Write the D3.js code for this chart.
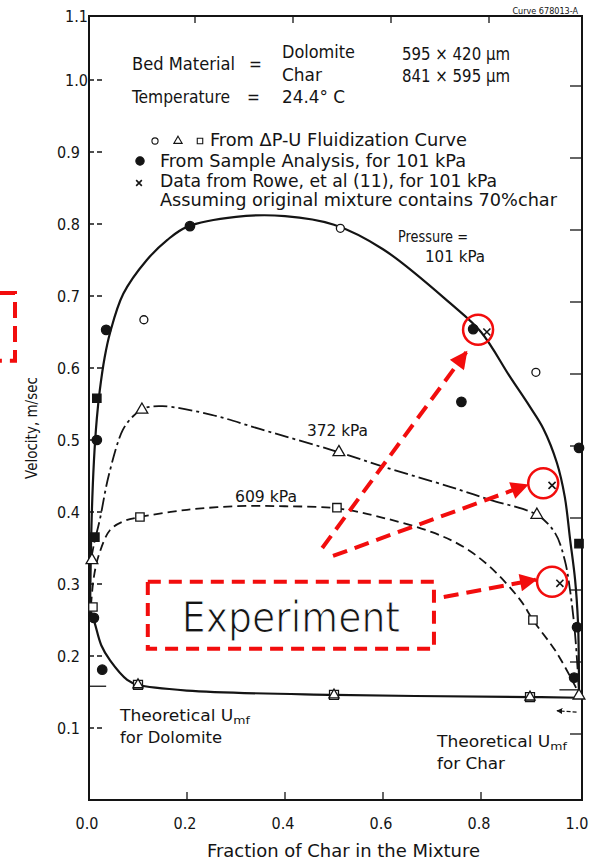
<!DOCTYPE html>
<html>
<head>
<meta charset="utf-8">
<script src="https://cdn.jsdelivr.net/npm/d3@7"></script>
<style>
  html, body { margin: 0; padding: 0; background: #fff; }
  svg { display: block; }
  text { font-family: 'DejaVu Sans Condensed', 'DejaVu Sans', sans-serif; fill: #141414; }
</style>
</head>
<body>
<script>
// ---- data (x = fraction of char, y = velocity m/sec)
const xTicks = [0, 0.2, 0.4, 0.6, 0.8, 1.0];
const yTicks = [0.1, 0.2, 0.3, 0.4, 0.5, 0.6, 0.7, 0.8, 0.9, 1.0, 1.1];

const curve101 = [[0.002, 0.25], [0.005, 0.38], [0.01, 0.47], [0.016, 0.53], [0.022, 0.569],
  [0.032, 0.615], [0.043, 0.649], [0.07, 0.703], [0.118, 0.75], [0.16, 0.778], [0.2, 0.796],
  [0.3, 0.81], [0.4, 0.811], [0.5, 0.799], [0.6, 0.765], [0.737, 0.69], [0.8, 0.65],
  [0.859, 0.588], [0.9, 0.546], [0.927, 0.516], [0.955, 0.468], [0.971, 0.421], [0.982, 0.361],
  [0.992, 0.306], [0.998, 0.246], [0.9995, 0.2], [1.0, 0.15]];
const curve372 = [[0.004, 0.333], [0.01, 0.355], [0.022, 0.389], [0.04, 0.45], [0.069, 0.514],
  [0.09, 0.533], [0.112, 0.544], [0.15, 0.547], [0.25, 0.535], [0.35, 0.515], [0.51, 0.483],
  [0.6, 0.463], [0.737, 0.435], [0.818, 0.417], [0.914, 0.396], [0.951, 0.371], [0.971, 0.333],
  [0.982, 0.29], [0.992, 0.23], [1.0, 0.15]];
const curve609 = [[0.004, 0.27], [0.01, 0.31], [0.02, 0.34], [0.043, 0.375], [0.07, 0.387],
  [0.104, 0.393], [0.2, 0.403], [0.3, 0.408], [0.4, 0.408], [0.506, 0.405], [0.6, 0.392],
  [0.7, 0.372], [0.763, 0.352], [0.818, 0.324], [0.88, 0.278], [0.906, 0.25], [0.955, 0.204], [1.0, 0.148]];
const curveUmf = [[0.004, 0.262], [0.012, 0.245], [0.025, 0.215], [0.043, 0.194], [0.078, 0.167],
  [0.1, 0.16], [0.2, 0.152], [0.5, 0.146], [0.9, 0.143], [1.0, 0.142]];

const openCircles = [[0.112, 0.667], [0.513, 0.794], [0.912, 0.594]];
const openTriangles = [[0.108, 0.542], [0.51, 0.483], [0.914, 0.396], [0.006, 0.333], [1.0, 0.145]];
const openSquares = [[0.104, 0.393], [0.506, 0.406], [0.906, 0.25], [0.008, 0.268]];
const umfPoints = [[0.1, 0.16], [0.5, 0.146], [0.9, 0.143]];
const filledDots = [[0.035, 0.653], [0.206, 0.797], [0.784, 0.654], [0.76, 0.553], [0.016, 0.5],
  [1.0, 0.489], [0.027, 0.181], [0.01, 0.253], [0.996, 0.24], [0.99, 0.17]];
const filledSquares = [[0.016, 0.558], [0.012, 0.365], [1.0, 0.356]];
const crosses = [[0.812, 0.65], [0.945, 0.437], [0.961, 0.301]];

// red overlay (also in data units)
const redCircles = [[0.794, 0.653], [0.927, 0.44], [0.945, 0.303]];
const redArrows = [
  [[0.476, 0.35], [0.77, 0.622]],
  [[0.498, 0.339], [0.894, 0.4375]],
  [[0.724, 0.282], [0.912, 0.306]],
];
const expBox = [[0.12, 0.303], [0.704, 0.21]];
const leftBracket = [[-0.182, 0.704], [-0.151, 0.704], [-0.151, 0.61], [-0.182, 0.61]];

const width = 601;
const height = 863;
const ink = '#141414';
const red = '#f20d0d';

const svg = d3.select('body').append('svg')
  .attr('width', width).attr('height', height)
  .attr('viewBox', `0 0 ${width} ${height}`);
const defs = svg.append('defs');

const x = d3.scaleLinear().domain([0, 1]).range([89, 579]);
const y = d3.scaleLinear().domain([0, 1.0, 1.1]).range([800, 80, 16]);
const frameRight = x(1) + 3;

// small helper: text stretched to the width it has on the scan
function label(g, px, py, str, len, size) {
  const t = g.append('text').attr('x', px).attr('y', py).text(str);
  if (size) t.attr('font-size', size);
  if (len) t.attr('textLength', len).attr('lengthAdjust', 'spacingAndGlyphs');
  return t;
}

// frame
const frame = svg.append('g').attr('class', 'frame')
  .attr('stroke', ink).attr('fill', 'none');
frame.append('rect')
  .attr('x', x(0)).attr('y', y(1.1))
  .attr('width', frameRight - x(0)).attr('height', y(0) - y(1.1))
  .attr('stroke-width', 2);

// ticks
frame.selectAll('.ytick').data(yTicks.filter((d) => d < 1.1)).join('line')
  .attr('x1', x(0)).attr('x2', x(0) + 13)
  .attr('y1', (d) => y(d)).attr('y2', (d) => y(d))
  .attr('stroke-width', 1.3).attr('stroke-dasharray', '5,3');
frame.selectAll('.rtick').data(yTicks.filter((d) => d < 1.1)).join('line')
  .attr('x1', frameRight).attr('x2', frameRight - 12)
  .attr('y1', (d) => y(d) + 6).attr('y2', (d) => y(d) + 6)
  .attr('stroke-width', 1.3);
frame.selectAll('.xtick').data(xTicks.slice(1, -1)).join('line')
  .attr('x1', (d) => x(d)).attr('x2', (d) => x(d))
  .attr('y1', y(0)).attr('y2', y(0) - 8)
  .attr('stroke-width', 1.3);
frame.selectAll('.ttick').data(xTicks.slice(1, -1)).join('line')
  .attr('x1', (d) => x(d) + 8).attr('x2', (d) => x(d) + 8)
  .attr('y1', y(1.1)).attr('y2', y(1.1) + 7)
  .attr('stroke-width', 1.3);

// tick labels
const fmt = d3.format('.1f');
svg.append('g').selectAll('text').data(yTicks).join('text')
  .attr('x', (d) => (d >= 1 ? 88 : 80))
  .attr('y', (d) => y(d) + 6)
  .attr('text-anchor', 'end')
  .attr('font-size', 16)
  .text((d) => fmt(d));
svg.append('g').selectAll('text').data(xTicks).join('text')
  .attr('x', (d) => x(d) - 2)
  .attr('y', 829)
  .attr('text-anchor', 'middle')
  .attr('font-size', 16)
  .text((d) => fmt(d));

// axis titles
svg.append('text')
  .attr('transform', 'translate(37,428) rotate(-90)')
  .attr('text-anchor', 'middle')
  .attr('font-size', 15)
  .text('Velocity, m/sec');
label(svg, 207, 857, 'Fraction of Char in the Mixture', 273, 17);

// curves
const line = d3.line()
  .x((d) => x(d[0])).y((d) => y(d[1]))
  .curve(d3.curveCatmullRom.alpha(0.5));
const curves = svg.append('g').attr('fill', 'none').attr('stroke', ink);
curves.append('path').attr('d', line(curve101)).attr('stroke-width', 2.2);
curves.append('path').attr('d', line(curveUmf)).attr('stroke-width', 2.2);
curves.append('path').attr('d', line(curve372)).attr('stroke-width', 1.8)
  .attr('stroke-dasharray', '14,4,3,4');
curves.append('path').attr('d', line(curve609)).attr('stroke-width', 1.8)
  .attr('stroke-dasharray', '9,5');

// theoretical Umf marks
curves.append('line')
  .attr('x1', x(0)).attr('x2', x(0.035))
  .attr('y1', y(0.158)).attr('y2', y(0.158))
  .attr('stroke-width', 1.3);
curves.append('line')
  .attr('x1', x(0.96)).attr('x2', x(1.0))
  .attr('y1', y(0.153)).attr('y2', y(0.153))
  .attr('stroke-width', 1.3);
defs.append('marker')
  .attr('id', 'blackhead').attr('viewBox', '0 0 10 10')
  .attr('refX', 9).attr('refY', 5)
  .attr('markerWidth', 5).attr('markerHeight', 5)
  .attr('orient', 'auto')
  .append('path').attr('d', 'M0,0L10,5L0,10z').attr('fill', ink);
curves.append('line')
  .attr('x1', x(0.995)).attr('x2', x(0.955))
  .attr('y1', y(0.122)).attr('y2', y(0.124))
  .attr('stroke-width', 1.2).attr('stroke-dasharray', '4,2')
  .attr('marker-end', 'url(#blackhead)');

// markers
const marks = svg.append('g').attr('stroke', ink);
const sym = (type, size) => d3.symbol().type(type).size(size)();
function drawPoints(data, type, size, filled) {
  marks.append('g').selectAll('path').data(data).join('path')
    .attr('transform', (d) => `translate(${x(d[0])},${y(d[1])})`)
    .attr('d', sym(type, size))
    .attr('fill', filled ? ink : '#fff')
    .attr('stroke-width', 1.3);
}
drawPoints(umfPoints, d3.symbolSquare, 80, false);
drawPoints(umfPoints, d3.symbolTriangle, 45, false);
drawPoints(openCircles, d3.symbolCircle, 50, false);
drawPoints(openTriangles, d3.symbolTriangle, 60, false);
drawPoints(openSquares, d3.symbolSquare, 70, false);
drawPoints(filledDots, d3.symbolCircle, 70, true);
drawPoints(filledSquares, d3.symbolSquare, 70, true);
marks.append('g').selectAll('path').data(crosses).join('path')
  .attr('transform', (d) => `translate(${x(d[0])},${y(d[1])}) rotate(45)`)
  .attr('d', 'M-5,0H5M0,-5V5')
  .attr('fill', 'none').attr('stroke-width', 1.6);

// curve labels
const labels = svg.append('g').attr('font-size', 15);
label(labels, 398, 242, 'Pressure =', 70);
label(labels, 425, 262, '101 kPa', 60);
label(labels, 307, 436, '372 kPa', 61);
label(labels, 235, 502, '609 kPa', 62);

function umfLabel(px, py, second, len1, len2) {
  const t = labels.append('text').attr('x', px).attr('y', py);
  t.append('tspan').text('Theoretical U');
  t.append('tspan').attr('font-size', 11).attr('dy', 3).text('mf');
  t.attr('textLength', len1).attr('lengthAdjust', 'spacingAndGlyphs');
  label(labels, px, py + 22, second, len2);
}
umfLabel(120, 721, 'for Dolomite', 130, 102);
umfLabel(437, 747, 'for Char', 130, 68);

// legend block
const legend = svg.append('g').attr('font-size', 17);
label(legend, 132, 70, 'Bed Material', 103);
label(legend, 249, 70, '=');
label(legend, 282, 58, 'Dolomite', 73);
label(legend, 282, 81, 'Char', 40);
label(legend, 402, 60, '595 × 420 μm', 108);
label(legend, 402, 82, '841 × 595 μm', 108);
label(legend, 132, 103, 'Temperature', 98);
label(legend, 247, 103, '=');
label(legend, 282, 103, '24.4° C', 63);

const legendSym = svg.append('g').attr('stroke', ink);
[[155, d3.symbolCircle, false], [178, d3.symbolTriangle, false], [200, d3.symbolSquare, false],
 [140, d3.symbolCircle, true]].forEach(([px, type, filled], i) => {
  legendSym.append('path')
    .attr('transform', `translate(${px},${i < 3 ? 141 : 161})`)
    .attr('d', sym(type, i < 3 ? 30 : 55))
    .attr('fill', filled ? ink : '#fff').attr('stroke-width', 1.1);
});
legendSym.append('path')
  .attr('transform', 'translate(139,183) rotate(45)')
  .attr('d', 'M-4,0H4M0,-4V4').attr('stroke-width', 1.6);
label(legend, 210, 146, 'From ΔP-U Fluidization Curve', 257);
label(legend, 160, 167, 'From Sample Analysis, for 101 kPa', 306);
label(legend, 160, 187, 'Data from Rowe, et al (11), for 101 kPa', 337);
label(legend, 160, 206, 'Assuming original mixture contains 70%char', 397);
svg.append('text').attr('x', 578).attr('y', 14).attr('text-anchor', 'end')
  .attr('font-size', 9).text('Curve 678013-A');

// red overlay
const overlay = svg.append('g').attr('class', 'overlay');
defs.append('marker')
  .attr('id', 'redhead').attr('viewBox', '0 0 10 10')
  .attr('refX', 9).attr('refY', 5)
  .attr('markerWidth', 5).attr('markerHeight', 4.4)
  .attr('orient', 'auto')
  .append('path').attr('d', 'M0,0L10,5L0,10z').attr('fill', red);

overlay.append('rect')
  .attr('x', x(expBox[0][0])).attr('y', y(expBox[0][1]))
  .attr('width', x(expBox[1][0]) - x(expBox[0][0]))
  .attr('height', y(expBox[1][1]) - y(expBox[0][1]))
  .attr('fill', 'none').attr('stroke', red).attr('stroke-width', 4)
  .attr('stroke-dasharray', '13,8');
// thin look: white stroke painted over the fill eats into the glyph edges
overlay.append('text')
  .attr('x', 291)
  .attr('y', y(expBox[1][1]) - 17)
  .attr('text-anchor', 'middle')
  .attr('font-family', "'Open Sans', sans-serif")
  .attr('font-size', 42)
  .attr('fill', '#1e1e1e')
  .attr('stroke', '#fff').attr('stroke-width', 1)
  .text('Experiment');

overlay.append('path')
  .attr('d', d3.line().x((d) => x(d[0])).y((d) => y(d[1]))(leftBracket))
  .attr('fill', 'none').attr('stroke', red).attr('stroke-width', 4)
  .attr('stroke-dasharray', '16,8');

overlay.selectAll('.rc').data(redCircles).join('circle')
  .attr('cx', (d) => x(d[0])).attr('cy', (d) => y(d[1]))
  .attr('r', 15)
  .attr('fill', 'none').attr('stroke', red).attr('stroke-width', 2.5);

overlay.selectAll('.ra').data(redArrows).join('line')
  .attr('x1', (d) => x(d[0][0])).attr('y1', (d) => y(d[0][1]))
  .attr('x2', (d) => x(d[1][0])).attr('y2', (d) => y(d[1][1]))
  .attr('stroke', red).attr('stroke-width', 4)
  .attr('stroke-dasharray', '15,8')
  .attr('marker-end', 'url(#redhead)');
</script>
</body>
</html>
